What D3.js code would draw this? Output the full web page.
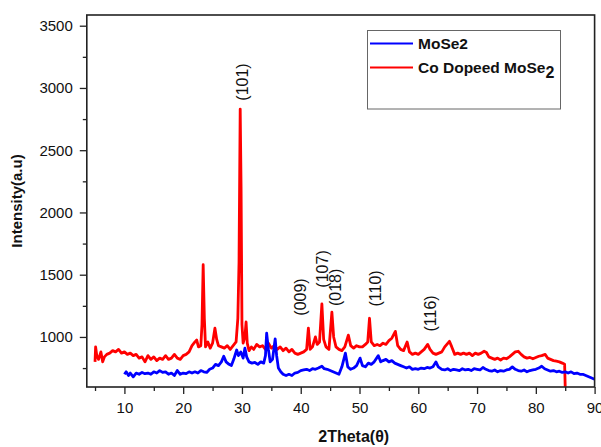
<!DOCTYPE html>
<html>
<head>
<meta charset="utf-8">
<script src="https://cdn.jsdelivr.net/npm/d3@7"></script>
<style>
  body { margin: 0; background: #fff; }
  text { font-family: "Liberation Sans", Arial, sans-serif; fill: #111; }
</style>
</head>
<body>
<div id="chart"></div>
<script>
// XRD patterns: [2theta, intensity]
const moSe2 = [
  [10.0,700],[10.3,720],[10.7,690],[11.0,710],[11.5,680],[12.0,710],[12.5,700],[13.0,715],[13.5,705],[14.0,710],
  [14.5,700],[15.0,720],[15.5,710],[16.0,730],[16.5,715],[17.0,720],[17.5,700],[18.0,710],[18.5,690],[19.0,730],
  [19.5,700],[20.0,710],[20.5,705],[21.0,720],[21.5,710],[22.0,720],[22.5,710],[23.0,730],[23.5,720],[24.0,715],
  [24.5,740],[25.0,750],[25.5,780],[26.0,770],[26.5,800],[26.9,845],[27.3,800],[27.8,780],[28.2,770],[28.6,820],
  [29.1,895],[29.4,850],[29.8,880],[30.2,830],[30.5,910],[30.8,840],[31.2,800],[31.7,790],[32.2,795],[32.7,780],
  [33.2,800],[33.7,790],[34.0,850],[34.2,1030],[34.5,900],[34.8,800],[35.2,820],[35.65,985],[35.9,850],[36.2,750],
  [36.6,720],[37.0,700],[37.5,690],[38.0,700],[38.5,690],[39.0,710],[39.5,715],[40.0,730],[40.5,735],[41.0,740],
  [41.5,730],[42.0,745],[42.5,740],[43.0,750],[43.6,765],[44.0,745],[44.5,740],[45.0,730],[45.5,720],[46.0,710],
  [46.5,700],[47.0,760],[47.6,870],[48.0,760],[48.5,740],[49.0,750],[49.5,770],[50.1,830],[50.5,770],[51.0,760],
  [51.5,790],[52.0,780],[52.5,800],[53.2,850],[53.6,800],[54.0,810],[54.5,820],[55.0,800],[55.5,810],[56.0,790],
  [56.5,780],[57.0,770],[57.5,760],[58.0,750],[58.5,760],[59.0,740],[59.5,745],[60.0,740],[60.5,750],[61.0,745],
  [61.5,755],[62.0,750],[62.5,760],[63.0,800],[63.4,760],[64.0,740],[64.5,735],[65.0,745],[65.5,730],[66.0,740],
  [66.5,735],[67.0,730],[67.5,745],[68.0,735],[68.5,740],[69.0,730],[69.5,745],[70.0,740],[70.5,735],[71.0,755],
  [71.5,740],[72.0,730],[72.5,725],[73.0,735],[73.5,720],[74.0,730],[74.5,725],[75.0,735],[75.5,740],[76.0,760],
  [76.5,740],[77.0,730],[77.5,725],[78.0,735],[78.5,720],[79.0,730],[79.5,735],[80.0,740],[80.5,750],[81.0,765],
  [81.5,745],[82.0,735],[82.5,725],[83.0,730],[83.5,720],[84.0,725],[84.5,715],[85.0,720],[85.5,710],[86.0,720],
  [86.5,705],[87.0,710],[87.5,700],[88.0,700],[88.5,690],[89.0,680],[89.5,670],[90.0,660]
];

const coDoped = [
  [5.0,800],[5.1,920],[5.3,850],[5.6,820],[6.0,880],[6.3,800],[6.6,840],[7.0,860],[7.5,870],[8.0,890],
  [8.5,880],[9.0,900],[9.5,870],[10.0,880],[10.5,860],[11.0,870],[11.5,850],[12.0,860],[12.5,830],[13.0,840],
  [13.5,800],[14.0,850],[14.5,820],[15.0,840],[15.5,810],[16.0,830],[16.5,820],[17.0,850],[17.5,820],[18.0,830],
  [18.5,860],[19.0,830],[19.5,820],[20.0,850],[20.5,860],[21.0,880],[21.5,930],[22.0,960],[22.3,975],[22.6,920],
  [23.0,930],[23.2,1100],[23.4,1580],[23.6,1150],[23.8,920],[24.2,960],[24.6,910],[25.0,950],[25.4,1070],[25.7,980],
  [26.0,930],[26.5,920],[27.0,910],[27.5,930],[28.0,900],[28.5,930],[29.0,960],[29.3,1150],[29.5,1600],[29.7,2830],
  [29.85,2200],[30.0,1100],[30.2,950],[30.5,1000],[30.7,1120],[30.9,950],[31.2,890],[31.6,920],[32.0,900],[32.5,940],
  [33.0,920],[33.5,930],[34.0,900],[34.5,950],[35.0,910],[35.5,930],[36.0,900],[36.5,920],[37.0,890],[37.5,910],
  [38.0,880],[38.5,900],[39.0,870],[39.5,860],[40.0,870],[40.5,880],[41.0,900],[41.3,1070],[41.6,900],[42.0,920],
  [42.5,1000],[42.8,940],[43.2,960],[43.6,1265],[43.9,980],[44.3,920],[44.8,900],[45.3,1200],[45.6,1000],[46.0,920],
  [46.5,900],[47.0,890],[47.5,920],[48.1,1015],[48.5,930],[49.0,910],[49.5,930],[50.0,920],[50.5,920],[51.0,940],
  [51.4,960],[51.7,1150],[52.0,960],[52.5,930],[53.0,940],[53.5,930],[54.0,950],[54.5,940],[55.0,970],[55.5,990],
  [56.1,1045],[56.5,930],[57.0,900],[57.5,890],[58.1,960],[58.5,880],[59.0,860],[59.5,870],[60.0,860],[60.5,880],
  [61.0,900],[61.6,940],[62.0,900],[62.5,870],[63.0,860],[63.5,870],[64.0,880],[64.5,920],[65.3,965],[65.7,920],
  [66.2,860],[66.7,870],[67.2,860],[67.7,870],[68.2,860],[68.7,870],[69.2,850],[69.7,870],[70.2,860],[70.7,870],
  [71.2,885],[71.6,875],[72.0,840],[72.5,830],[73.0,820],[73.5,830],[74.0,815],[74.5,830],[75.0,825],[75.5,840],
  [76.0,860],[76.5,880],[77.0,885],[77.5,860],[78.0,840],[78.5,830],[79.0,835],[79.5,825],[80.0,835],[80.5,845],
  [81.0,850],[81.6,860],[82.0,830],[82.5,820],[83.0,810],[83.5,805],[84.0,800],[84.5,790],[84.9,780],[85.0,600]
];

const seriesNames = ["MoSe2", "Co Dopeed MoSe"];
const xTicks = [10, 20, 30, 40, 50, 60, 70, 80, 90];
const xMinorTicks = [5, 15, 25, 35, 45, 55, 65, 75, 85];
const yTicks = [1000, 1500, 2000, 2500, 3000, 3500];
const yMinorTicks = [750, 1250, 1750, 2250, 2750, 3250];
const peakLabels = [
  { label: "(101)", theta: 30.15, intensity: 3048 },
  { label: "(009)", theta: 39.9, intensity: 1321 },
  { label: "(107)", theta: 43.74, intensity: 1546 },
  { label: "(018)", theta: 45.95, intensity: 1398 },
  { label: "(110)", theta: 52.67, intensity: 1390 },
  { label: "(116)", theta: 62.12, intensity: 1189 }
];

const width = 601, height = 447;
const plotLeft = 86.8, plotRight = 594.6, plotTop = 15, plotBottom = 387;

const svg = d3.select("#chart").append("svg")
  .attr("width", width)
  .attr("height", height);

const x = d3.scaleLinear().domain([3.6, 90]).range([plotLeft, plotRight]);
const y = d3.scaleLinear().domain([598, 3586]).range([plotBottom, plotTop]);

const line = d3.line().x(d => x(d[0])).y(d => y(d[1]));

// curves
svg.append("path")
  .datum(coDoped)
  .attr("fill", "none")
  .attr("stroke", "#ff0000")
  .attr("stroke-width", 2.8)
  .attr("stroke-linejoin", "round")
  .attr("d", line);

svg.append("path")
  .datum(moSe2)
  .attr("fill", "none")
  .attr("stroke", "#0000ff")
  .attr("stroke-width", 2.8)
  .attr("stroke-linejoin", "round")
  .attr("d", line);

// axes
const styleAxis = g => {
  g.select(".domain").remove();
  g.selectAll("line").attr("stroke", "#222").attr("stroke-width", 1.3);
  g.selectAll("text").style("font-size", "15px").attr("fill", "#111");
};

svg.append("g")
  .attr("transform", `translate(0,${plotBottom})`)
  .call(d3.axisBottom(x).tickValues(xTicks).tickSize(7).tickPadding(8).tickFormat(d3.format("d")))
  .call(styleAxis);

svg.append("g")
  .attr("transform", `translate(0,${plotBottom})`)
  .call(d3.axisBottom(x).tickValues(xMinorTicks).tickSize(4).tickFormat(""))
  .call(styleAxis);

svg.append("g")
  .attr("transform", `translate(${plotLeft},0)`)
  .call(d3.axisLeft(y).tickValues(yTicks).tickSize(7).tickPadding(7).tickFormat(d3.format("d")))
  .call(styleAxis);

svg.append("g")
  .attr("transform", `translate(${plotLeft},0)`)
  .call(d3.axisLeft(y).tickValues(yMinorTicks).tickSize(4).tickFormat(""))
  .call(styleAxis);

// frame
svg.append("rect")
  .attr("x", plotLeft).attr("y", plotTop)
  .attr("width", plotRight - plotLeft).attr("height", plotBottom - plotTop)
  .attr("fill", "none")
  .attr("stroke", "#222")
  .attr("stroke-width", 1.6);

// axis titles
svg.append("text")
  .attr("x", (plotLeft + plotRight) / 2 + 13)
  .attr("y", 442)
  .attr("text-anchor", "middle")
  .style("font-size", "16px")
  .style("font-weight", "bold")
  .text("2Theta(θ)");

svg.append("text")
  .attr("transform", "translate(22,201) rotate(-90)")
  .attr("text-anchor", "middle")
  .style("font-size", "15px")
  .style("font-weight", "bold")
  .text("Intensity(a.u)");

// peak labels
svg.selectAll(".peak")
  .data(peakLabels)
  .enter()
  .append("text")
  .attr("class", "peak")
  .attr("transform", d => `translate(${x(d.theta)},${y(d.intensity)}) rotate(-90)`)
  .attr("text-anchor", "middle")
  .attr("dominant-baseline", "central")
  .style("font-size", "16px")
  .text(d => d.label);

// legend
const legend = svg.append("g");
legend.append("rect")
  .attr("x", 367.5).attr("y", 30.5)
  .attr("width", 193).attr("height", 78.5)
  .attr("fill", "#fff")
  .attr("stroke", "#666")
  .attr("stroke-width", 1);

const legendColors = ["#0000ff", "#ff0000"];
seriesNames.forEach((name, i) => {
  const ly = 43.5 + i * 24;
  legend.append("line")
    .attr("x1", 370).attr("x2", 413)
    .attr("y1", ly).attr("y2", ly)
    .attr("stroke", legendColors[i])
    .attr("stroke-width", 2.2);
  const t = legend.append("text")
    .attr("x", 418)
    .attr("y", ly + 5)
    .style("font-size", "15.5px")
    .style("font-weight", "bold")
    .text(name);
  if (i === 1) {
    t.append("tspan").attr("dy", 5).style("font-size", "16px").text("2");
  }
});
</script>
</body>
</html>
